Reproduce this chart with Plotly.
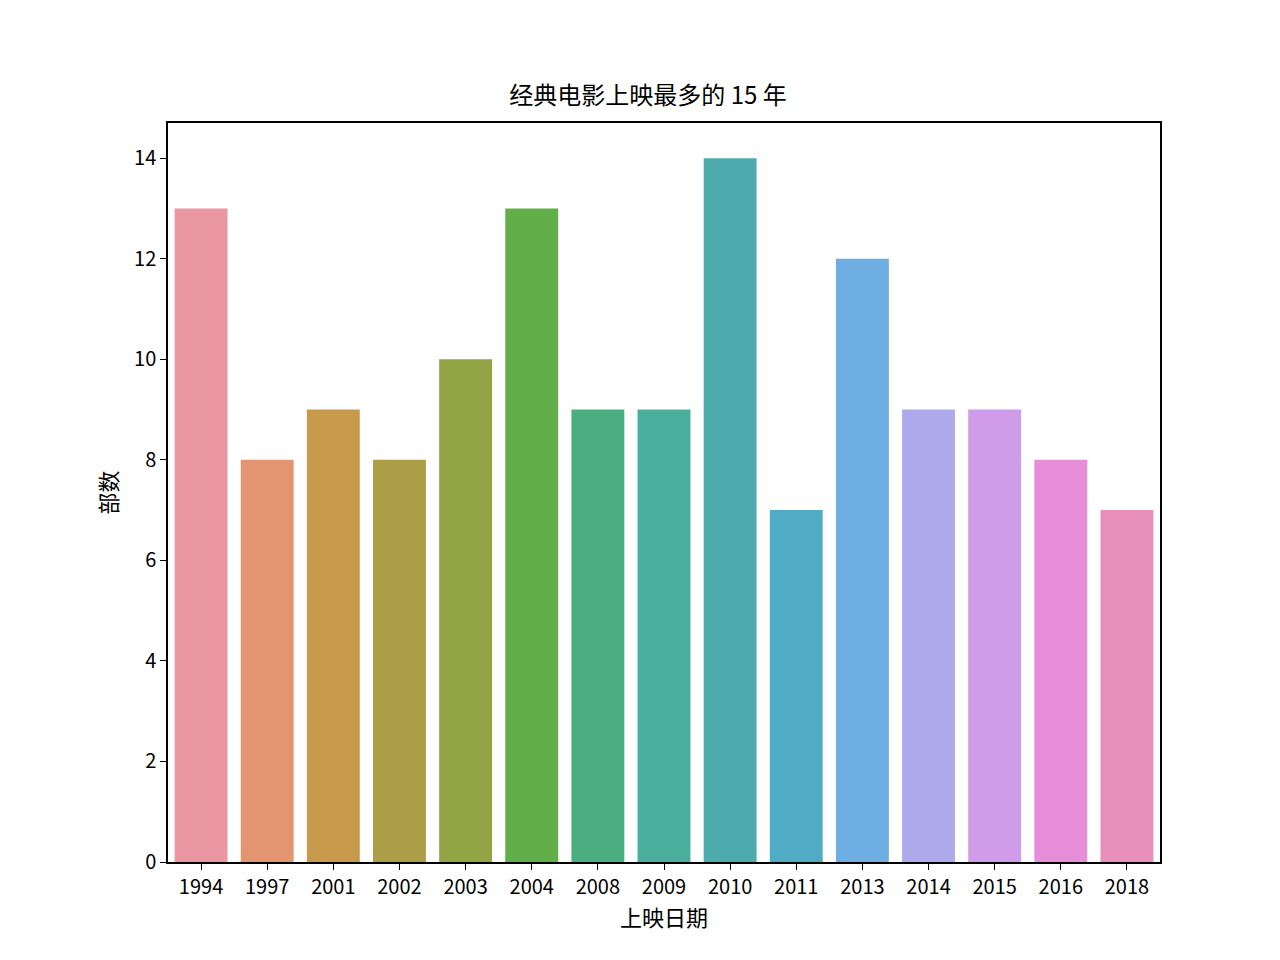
import plotly.graph_objects as go

years = ["1994","1997","2001","2002","2003","2004","2008","2009","2010","2011","2013","2014","2015","2016","2018"]
counts = [13,8,9,8,10,13,9,9,14,7,12,9,9,8,7]
colors = ["#EA96A3","#E39470","#C89A4C","#AB9E47","#93A445","#62AF4A","#4BAE80","#4AAE9C",
          "#4DABAE","#50ABC5","#6EAEE2","#AEA9EB","#D09BE8","#E78ED9","#E890BB"]

font = "Noto Sans CJK SC, sans-serif"
fig = go.Figure(go.Bar(x=years, y=counts, marker=dict(color=colors, line=dict(width=0)), width=0.8))
fig.update_layout(
    width=1280, height=960, paper_bgcolor="white", plot_bgcolor="white",
    margin=dict(l=160, r=128, t=115, b=106),
    font=dict(family=font, size=20, color="black"),
    title=dict(text="经典电影上映最多的 15 年", x=0.5, xanchor="center", y=1-88/960, yanchor="middle",
               font=dict(size=24)),
    showlegend=False,
)
axis = dict(showline=True, linecolor="black", linewidth=1.5, mirror=True, ticks="outside",
            ticklen=6, tickcolor="black", showgrid=False, zeroline=False, tickfont=dict(size=20))
fig.update_xaxes(title=dict(text="上映日期", font=dict(size=22), standoff=8), type="category", **axis)
fig.update_yaxes(title=dict(text="部数", font=dict(size=22), standoff=10), range=[0,14.7],
                 tickvals=[0,2,4,6,8,10,12,14], **axis)
fig.write_html("out.html")
